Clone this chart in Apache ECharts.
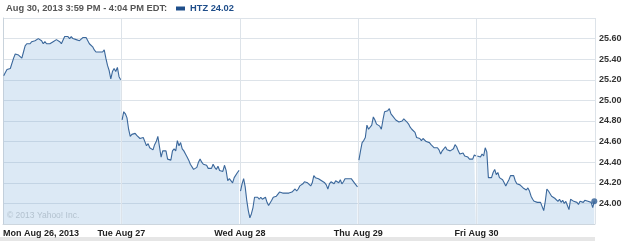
<!DOCTYPE html>
<html><head><meta charset="utf-8">
<script src="https://cdn.jsdelivr.net/npm/echarts@6/dist/echarts.min.js"></script>
<style>html,body{margin:0;padding:0;background:#fff}#c{width:625px;height:241px}</style>
</head><body><div id="c"></div>
<script>
const dayLabels = ['Mon Aug 26, 2013', 'Tue Aug 27', 'Wed Aug 28', 'Thu Aug 29', 'Fri Aug 30'];
const yTicks = [24.00, 24.20, 24.40, 24.60, 24.80, 25.00, 25.20, 25.40, 25.60];
const titleText = 'Aug 30, 2013 3:59 PM - 4:04 PM EDT:';
const symbolName = 'HTZ';
const lastPrice = 24.02;

const mon = [25.24,25.27,25.30,25.31,25.31,25.32,25.41,25.45,25.46,25.44,25.45,25.41,25.47,25.53,25.55,25.54,25.55,25.57,25.56,25.58,25.59,25.60,25.59,25.58,25.55,25.57,25.55,25.56,25.55,25.56,25.57,25.58,25.59,25.58,25.57,25.55,25.55,25.62,25.61,25.62,25.60,25.62,25.60,25.61,25.59,25.59,25.58,25.59,25.61,25.62,25.61,25.60,25.55,25.54,25.52,25.49,25.47,25.47,25.47,25.47,25.47,25.49,25.41,25.34,25.29,25.21,25.28,25.31,25.28,25.32,25.23,25.20];
const tue = [24.81,24.89,24.87,24.83,24.72,24.65,24.67,24.66,24.68,24.66,24.67,24.63,24.62,24.64,24.60,24.56,24.58,24.54,24.53,24.52,24.57,24.60,24.65,24.55,24.45,24.51,24.51,24.51,24.43,24.42,24.42,24.51,24.53,24.51,24.61,24.56,24.59,24.53,24.51,24.48,24.45,24.42,24.38,24.37,24.33,24.32,24.35,24.40,24.43,24.40,24.38,24.37,24.37,24.34,24.35,24.34,24.38,24.35,24.33,24.36,24.32,24.33,24.31,24.37,24.32,24.22,24.24,24.24,24.20,24.25,24.26,24.30,24.32];
const wed = [24.12,24.19,24.24,24.16,24.03,23.93,23.86,23.90,23.96,24.06,24.07,24.06,24.04,24.06,24.04,24.05,24.06,24.01,23.98,23.99,24.03,24.06,24.07,24.07,24.09,24.11,24.10,24.10,24.10,24.10,24.10,24.10,24.10,24.11,24.11,24.14,24.12,24.14,24.17,24.18,24.19,24.21,24.22,24.20,24.19,24.17,24.20,24.27,24.25,24.25,24.24,24.24,24.22,24.23,24.20,24.18,24.14,24.19,24.21,24.20,24.19,24.22,24.23,24.20,24.23,24.19,24.21,24.24,24.23,24.24,24.25,24.24,24.23,24.20,24.18,24.16];
const thu = [24.42,24.51,24.59,24.61,24.64,24.76,24.72,24.71,24.76,24.84,24.81,24.77,24.76,24.75,24.72,24.81,24.89,24.89,24.90,24.92,24.87,24.85,24.84,24.81,24.82,24.79,24.78,24.80,24.82,24.81,24.79,24.77,24.74,24.72,24.72,24.69,24.64,24.63,24.63,24.61,24.63,24.62,24.60,24.61,24.59,24.57,24.56,24.54,24.53,24.54,24.52,24.48,24.51,24.52,24.55,24.52,24.51,24.51,24.52,24.53,24.57,24.55,24.51,24.48,24.47,24.49,24.46,24.47,24.45,24.43,24.44,24.43,24.47,24.46];
const fri = [24.46,24.47,24.45,24.48,24.46,24.54,24.50,24.25,24.24,24.25,24.30,24.33,24.28,24.30,24.25,24.24,24.23,24.20,24.17,24.20,24.23,24.27,24.28,24.27,24.22,24.19,24.18,24.18,24.17,24.15,24.14,24.13,24.15,24.12,24.07,24.04,24.02,24.01,24.01,24.01,24.01,24.01,23.93,24.02,24.14,24.12,24.11,24.07,24.06,24.05,24.06,24.02,24.04,24.01,24.03,24.00,24.02,23.98,23.94,24.04,24.03,24.02,24.01,24.01,23.99,24.02,24.02,24.01,24.03,24.04,24.02,24.02,24.01,23.96,24.02];

const days = [mon, tue, wed, thu, fri];
const seriesData = [];
days.forEach((arr, d) => {
  const n = arr.length;
  arr.forEach((v, i) => seriesData.push([d + 0.006 + i / (n - 1) * 0.988, v]));
  if (d < days.length - 1) seriesData.push([d + 1, null]);
});
const lastPoint = seriesData[seriesData.length - 1];

const FONT = 'Liberation Sans';
const chart = echarts.init(document.getElementById('c'), null, {renderer: 'canvas'});
chart.setOption({
  animation: false,
  backgroundColor: '#ffffff',
  title: {
    text: titleText, left: 6, top: 4, padding: 0,
    textStyle: {fontFamily: FONT, fontSize: 9.3, fontWeight: 'bold', color: '#555555'}
  },
  legend: {
    left: 176, top: 4, padding: 0, icon: 'rect', itemWidth: 9, itemHeight: 4, itemGap: 4,
    data: [symbolName],
    formatter: () => symbolName + ' ' + lastPrice.toFixed(2),
    textStyle: {fontFamily: FONT, fontSize: 9.3, fontWeight: 'bold', color: '#1f4e8a', padding: [0, 0, 0, 0]}
  },
  grid: {left: 3, right: 30, top: 18, bottom: 17},
  xAxis: {
    type: 'value', min: 0, max: 5, interval: 1,
    axisLine: {show: true, lineStyle: {color: '#cdd6de'}},
    axisTick: {show: false},
    splitLine: {show: true, lineStyle: {color: '#dde3e9', width: 1}},
    axisLabel: {
      margin: 5, fontFamily: FONT, fontSize: 9, fontWeight: 'bold', color: '#222222',
      alignMinLabel: 'left', showMaxLabel: true,
      formatter: v => dayLabels[Math.round(v)] || ''
    }
  },
  yAxis: {
    type: 'value', position: 'right', min: 23.8, max: 25.8, interval: 0.2,
    axisLine: {show: true, lineStyle: {color: '#c9d3dc'}},
    axisTick: {show: false},
    splitLine: {show: true, lineStyle: {color: '#dde3e9', width: 1}},
    axisLabel: {
      margin: 4, fontFamily: FONT, fontSize: 9, fontWeight: 'bold', color: '#333333',
      formatter: v => {
        const t = yTicks.find(y => Math.abs(y - v) < 1e-6);
        return t === undefined ? '' : t.toFixed(2);
      }
    }
  },
  graphic: [
    {type: 'rect', left: 0, top: 237, shape: {width: 595, height: 4}, style: {fill: '#e6e6e6'}, silent: true},
    {type: 'text', left: 7, top: 211, style: {text: '© 2013 Yahoo! Inc.', font: '8.5px "Liberation Sans"', fill: '#b3c2cf'}, z: 10}
  ],
  series: [
    {
      name: symbolName, type: 'line', data: seriesData, connectNulls: false,
      showSymbol: false, symbol: 'none',
      lineStyle: {color: '#3a679b', width: 1.1},
      itemStyle: {color: '#1f4e8a'},
      areaStyle: {color: 'rgba(120,170,215,0.37)', origin: 'start'}
    },
    {
      name: 'last', type: 'scatter', data: [lastPoint], symbolSize: 6,
      itemStyle: {color: '#2f5e95'}, z: 5
    }
  ]
});
</script></body></html>
